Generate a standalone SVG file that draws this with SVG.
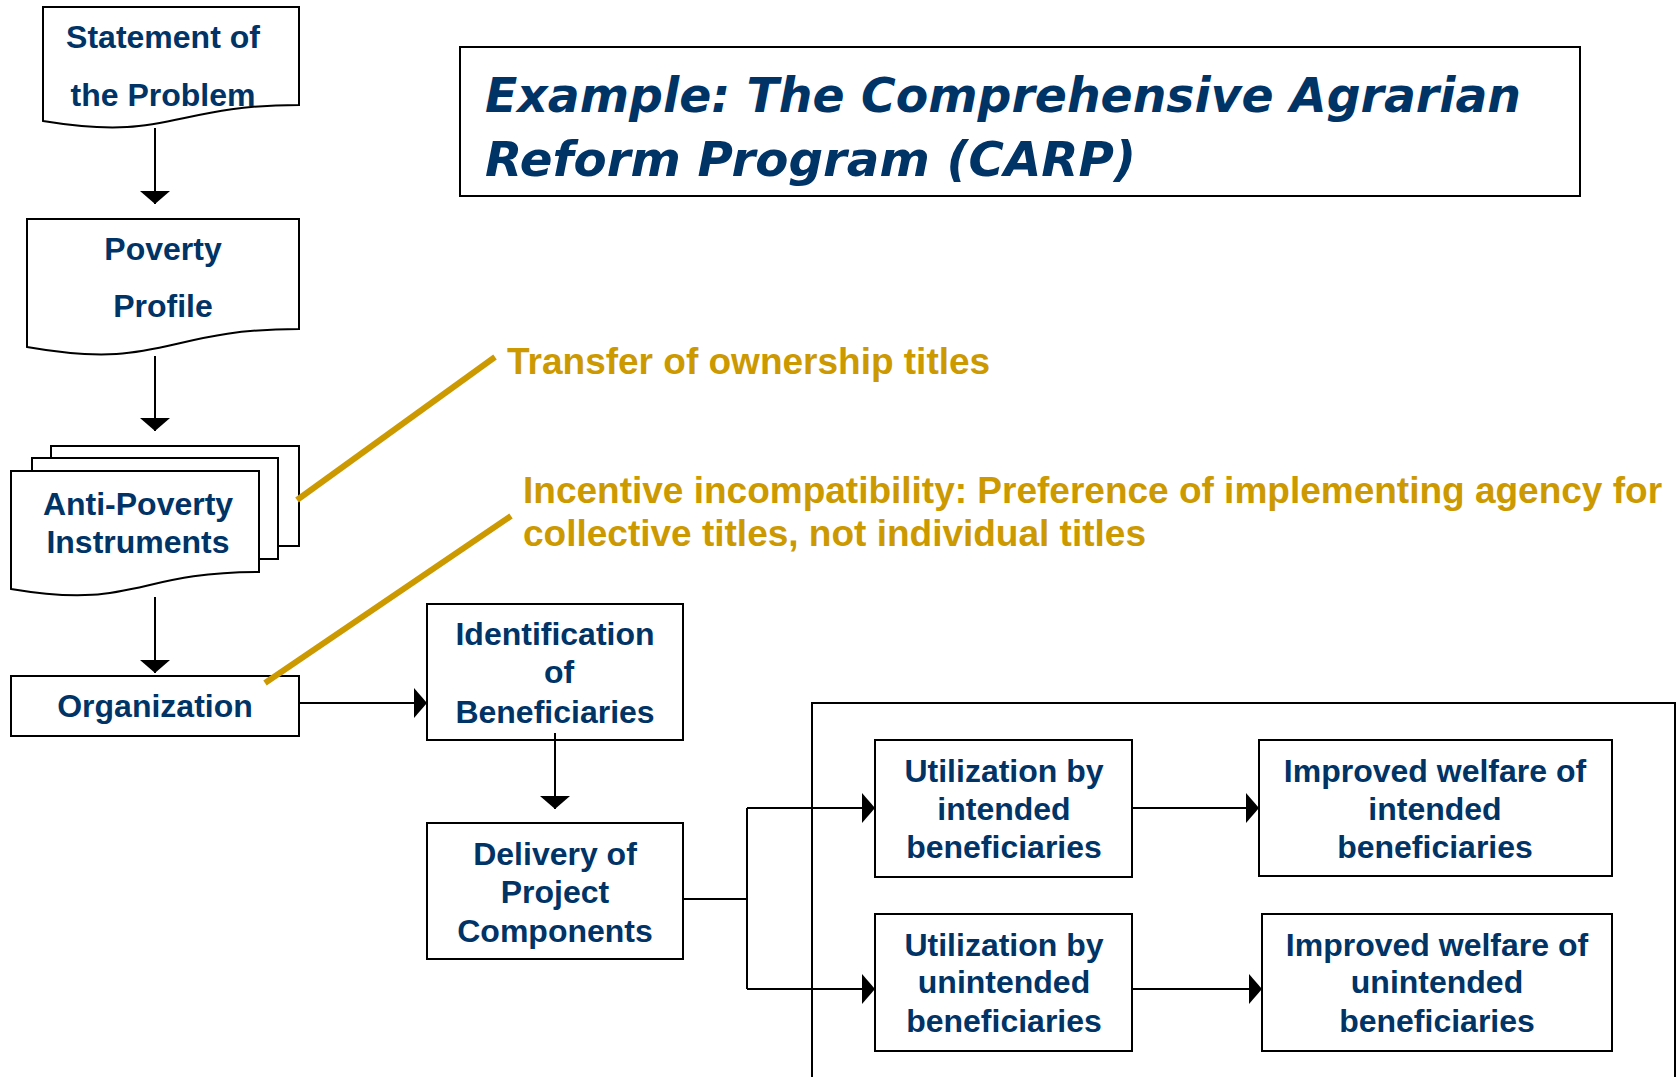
<svg xmlns="http://www.w3.org/2000/svg" width="1677" height="1077" viewBox="0 0 1677 1077">
<defs>
<style>
.box{fill:#fff;stroke:#000;stroke-width:2}
.t{font-family:"Liberation Sans",Arial,sans-serif;font-weight:bold;font-size:32px;fill:#003366;text-anchor:middle}
.g{font-family:"Liberation Sans",Arial,sans-serif;font-weight:bold;font-size:37px;fill:#CC9900}
.title{font-family:"DejaVu Sans",Verdana,sans-serif;font-weight:bold;font-style:italic;font-size:48px;fill:#003366}
.c{fill:none;stroke:#000;stroke-width:2}
.gl{fill:none;stroke:#CC9900;stroke-width:6}
</style>
<marker id="ah" viewBox="0 0 13 30" refX="13" refY="15" markerWidth="13" markerHeight="30" orient="auto" markerUnits="userSpaceOnUse">
<path d="M0,0 L13,15 L0,30 Z" fill="#000"/>
</marker>
</defs>
<rect width="1677" height="1077" fill="#fff"/>

<g id="title">
<rect class="box" x="460" y="47" width="1120" height="149"/>
<text class="title" x="485" y="112" textLength="1036" lengthAdjust="spacingAndGlyphs">Example: The Comprehensive Agrarian</text>
<text class="title" x="485" y="176" textLength="651" lengthAdjust="spacingAndGlyphs">Reform Program (CARP)</text>
</g>

<g id="statement">
<path class="box" d="M43,7 H299 V105 C171,105 171,142 43,121 Z"/>
<text class="t" x="163" y="48">Statement of</text>
<text class="t" x="163" y="106">the Problem</text>
</g>

<g id="poverty">
<path class="box" d="M27,219 H299 V329 C163,329 163,371 27,347 Z"/>
<text class="t" x="163" y="260">Poverty</text>
<text class="t" x="163" y="317">Profile</text>
</g>

<g id="antipoverty">
<rect class="box" x="51" y="446" width="248" height="100"/>
<rect class="box" x="32" y="458" width="246" height="101"/>
<path class="box" d="M11,471 H259 V572 C135,572 135,610 11,589 Z"/>
<text class="t" x="138" y="515">Anti-Poverty</text>
<text class="t" x="138" y="553">Instruments</text>
</g>

<g id="organization">
<rect class="box" x="11" y="676" width="288" height="60"/>
<text class="t" x="155" y="717">Organization</text>
</g>

<g id="identification">
<rect class="box" x="427" y="604" width="256" height="136"/>
<text class="t" x="555" y="645">Identification</text>
<text class="t" x="559" y="683">of</text>
<text class="t" x="555" y="723">Beneficiaries</text>
</g>

<g id="delivery">
<rect class="box" x="427" y="823" width="256" height="136"/>
<text class="t" x="555" y="865">Delivery of</text>
<text class="t" x="555" y="903">Project</text>
<text class="t" x="555" y="942">Components</text>
</g>

<g id="frame">
<path class="c" d="M812,1077 V703 H1675 V1077"/>
</g>

<g id="util1">
<rect class="box" x="875" y="740" width="257" height="137"/>
<text class="t" x="1004" y="782">Utilization by</text>
<text class="t" x="1004" y="820">intended</text>
<text class="t" x="1004" y="858">beneficiaries</text>
</g>

<g id="util2">
<rect class="box" x="875" y="914" width="257" height="137"/>
<text class="t" x="1004" y="956">Utilization by</text>
<text class="t" x="1004" y="993">unintended</text>
<text class="t" x="1004" y="1032">beneficiaries</text>
</g>

<g id="welfare1">
<rect class="box" x="1259" y="740" width="353" height="136"/>
<text class="t" x="1435" y="782">Improved welfare of</text>
<text class="t" x="1435" y="820">intended</text>
<text class="t" x="1435" y="858">beneficiaries</text>
</g>

<g id="welfare2">
<rect class="box" x="1262" y="914" width="350" height="137"/>
<text class="t" x="1437" y="956">Improved welfare of</text>
<text class="t" x="1437" y="993">unintended</text>
<text class="t" x="1437" y="1032">beneficiaries</text>
</g>

<g id="connectors">
<path class="c" d="M155,128 V204" marker-end="url(#ah)"/>
<path class="c" d="M155,356 V431" marker-end="url(#ah)"/>
<path class="c" d="M155,597 V673" marker-end="url(#ah)"/>
<path class="c" d="M299,703 H427" marker-end="url(#ah)"/>
<path class="c" d="M555,733 V809" marker-end="url(#ah)"/>
<path class="c" d="M683,899 H747"/>
<path class="c" d="M747,808 V989"/>
<path class="c" d="M747,808 H875" marker-end="url(#ah)"/>
<path class="c" d="M747,989 H875" marker-end="url(#ah)"/>
<path class="c" d="M1132,808 H1259" marker-end="url(#ah)"/>
<path class="c" d="M1132,989 H1262" marker-end="url(#ah)"/>
</g>

<g id="annotations">
<path class="gl" d="M297,500 L495,357"/>
<path class="gl" d="M265,683 L511,516"/>
<text class="g" x="507" y="374">Transfer of ownership titles</text>
<text class="g" x="523" y="503">Incentive incompatibility: Preference of implementing agency for</text>
<text class="g" x="523" y="546">collective titles, not individual titles</text>
</g>
</svg>
